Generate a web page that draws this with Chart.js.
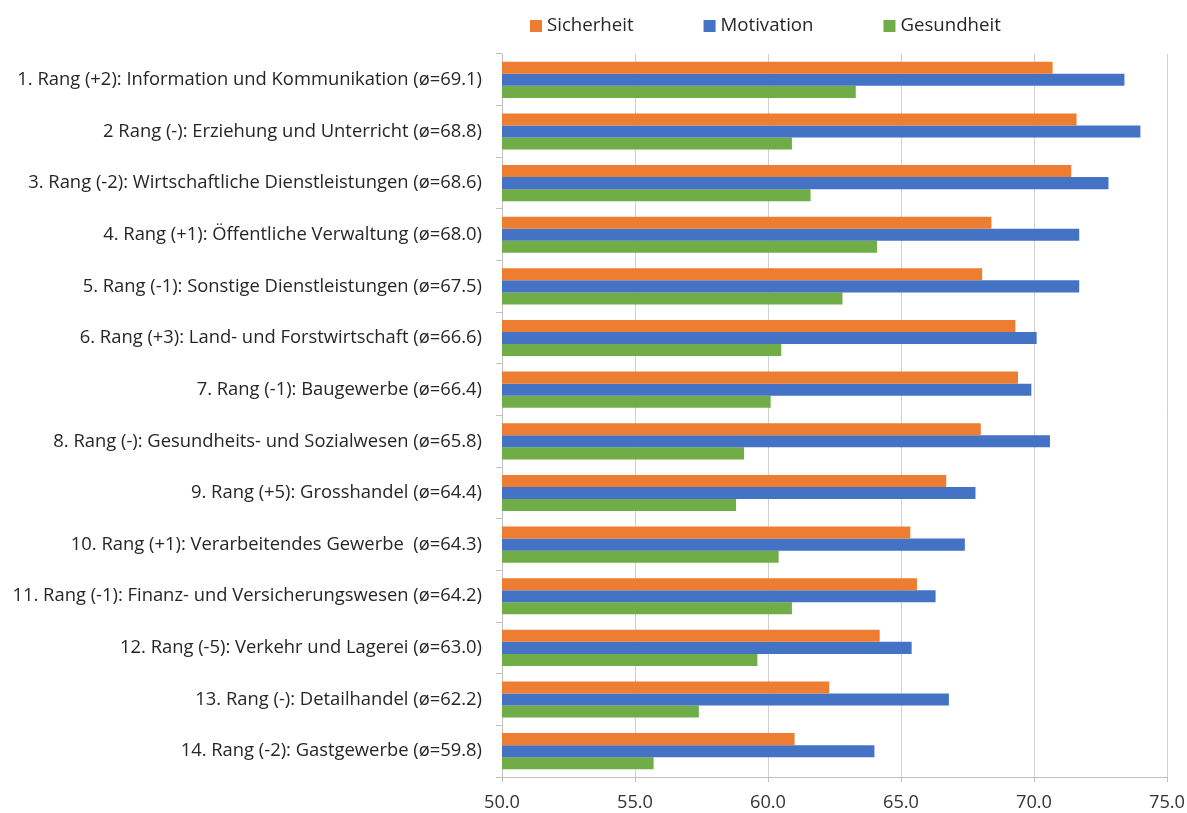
<!DOCTYPE html>
<html>
<head>
<meta charset="utf-8">
<script src="https://cdn.jsdelivr.net/npm/chart.js@4.4.1/dist/chart.umd.min.js"></script>
<style>
  html, body { margin: 0; padding: 0; background: #fff; }
  #wrap { width: 1187px; height: 813px; position: relative; }
</style>
</head>
<body>
<div id="wrap"><canvas id="chart"></canvas></div>
<script>
const categories = [
    '1. Rang (+2): Information und Kommunikation (ø=69.1)',
    '2 Rang (-): Erziehung und Unterricht (ø=68.8)',
    '3. Rang (-2): Wirtschaftliche Dienstleistungen (ø=68.6)',
    '4. Rang (+1): Öffentliche Verwaltung (ø=68.0)',
    '5. Rang (-1): Sonstige Dienstleistungen (ø=67.5)',
    '6. Rang (+3): Land- und Forstwirtschaft (ø=66.6)',
    '7. Rang (-1): Baugewerbe (ø=66.4)',
    '8. Rang (-): Gesundheits- und Sozialwesen (ø=65.8)',
    '9. Rang (+5): Grosshandel (ø=64.4)',
    '10. Rang (+1): Verarbeitendes Gewerbe  (ø=64.3)',
    '11. Rang (-1): Finanz- und Versicherungswesen (ø=64.2)',
    '12. Rang (-5): Verkehr und Lagerei (ø=63.0)',
    '13. Rang (-): Detailhandel (ø=62.2)',
    '14. Rang (-2): Gastgewerbe (ø=59.8)'
];

const sicherheit = [70.7, 71.6, 71.4, 68.4, 68.05, 69.3, 69.4, 68.0, 66.7, 65.35, 65.6, 64.2, 62.3, 61.0];
const motivation = [73.4, 74.0, 72.8, 71.7, 71.7, 70.1, 69.9, 70.6, 67.8, 67.4, 66.3, 65.4, 66.8, 64.0];
const gesundheit = [63.3, 60.9, 61.6, 64.1, 62.8, 60.5, 60.1, 59.1, 58.8, 60.4, 60.9, 59.6, 57.4, 55.7];

const seriesNames = ['Sicherheit', 'Motivation', 'Gesundheit'];
const seriesColors = ['#ED7D31', '#4472C4', '#70AD47'];

const FONT = '"Open Sans", "Liberation Sans", sans-serif';

// pick font sizes so text widths come out like the Calibri original
function fitSize(text, targetWidth) {
    const c = document.createElement('canvas').getContext('2d');
    c.font = '20px ' + FONT;
    return 20 * targetWidth / c.measureText(text).width;
}
const labelSize = fitSize(categories[0], 465);
const legendSize = fitSize('Motivation', 93);
const tickSize = fitSize('50.0', 36);

const topLegend = {
    id: 'topLegend',
    afterDraw(chart) {
        const ctx = chart.ctx;
        ctx.save();
        ctx.font = legendSize + 'px ' + FONT;
        ctx.textBaseline = 'middle';
        let x = 530;
        const y = 26;
        chart.data.datasets.forEach(ds => {
            ctx.fillStyle = ds.backgroundColor;
            ctx.fillRect(x, y - 6, 12, 12);
            ctx.fillStyle = '#262626';
            ctx.fillText(ds.label, x + 17, y);
            x += 17 + ctx.measureText(ds.label).width + 70;
        });
        ctx.restore();
    }
};

new Chart(document.getElementById('chart'), {
    type: 'bar',
    data: {
        labels: categories,
        datasets: [
            { label: seriesNames[0], data: sicherheit, backgroundColor: seriesColors[0] },
            { label: seriesNames[1], data: motivation, backgroundColor: seriesColors[1] },
            { label: seriesNames[2], data: gesundheit, backgroundColor: seriesColors[2] }
        ]
    },
    options: {
        indexAxis: 'y',
        responsive: true,
        maintainAspectRatio: false,
        animation: false,
        layout: { padding: { top: 54, right: 20, left: 0, bottom: 0 } },
        datasets: {
            bar: { categoryPercentage: 0.7, barPercentage: 1.0, borderWidth: 0 }
        },
        plugins: {
            legend: { display: false },
            tooltip: { enabled: false }
        },
        scales: {
            x: {
                min: 50,
                max: 75,
                ticks: {
                    stepSize: 5,
                    font: { family: FONT, size: tickSize },
                    color: '#333',
                    padding: 10,
                    callback: v => Number(v).toFixed(1)
                },
                grid: { color: '#d0d0d0', tickLength: 5, tickColor: '#bfbfbf' },
                border: { color: '#bfbfbf' },
                afterFit(scale) {
                    scale.height = 36;
                    scale.paddingLeft = 0;
                    scale.paddingRight = 0;
                }
            },
            y: {
                ticks: {
                    font: { family: FONT, size: labelSize },
                    color: '#262626',
                    padding: 14
                },
                grid: { drawOnChartArea: false, offset: true, tickLength: 6, color: '#bfbfbf' },
                border: { color: '#bfbfbf' },
                afterFit(scale) { scale.width = 502; }
            }
        }
    },
    plugins: [topLegend]
});
</script>
</body>
</html>
